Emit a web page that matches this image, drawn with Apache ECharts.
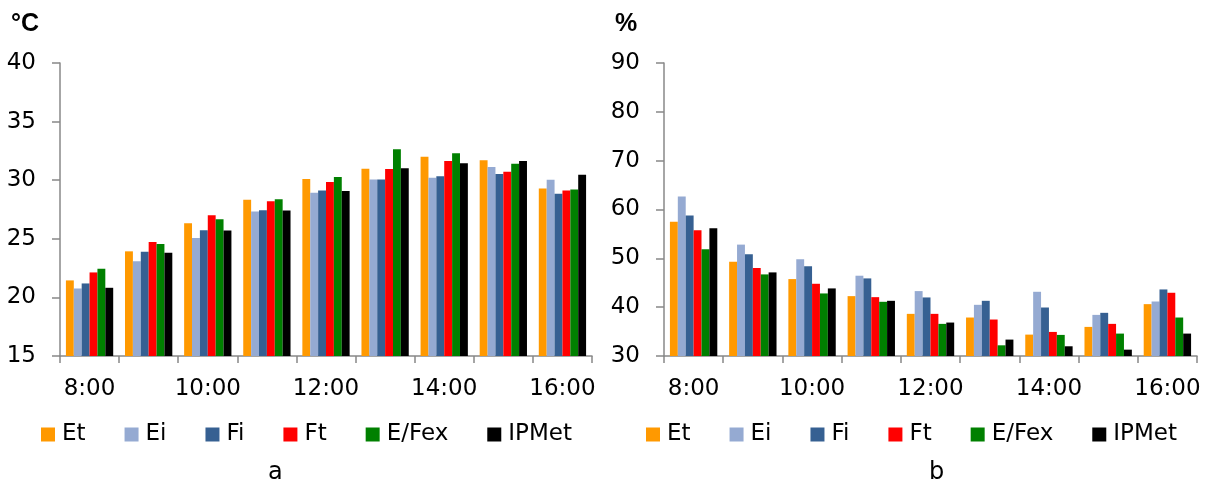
<!DOCTYPE html>
<html>
<head>
<meta charset="utf-8">
<script src="https://cdn.jsdelivr.net/npm/echarts@6/dist/echarts.min.js"></script>
<style>
html,body{margin:0;padding:0;background:#fff;}
#c{width:1216px;height:484px;}
</style>
</head>
<body>
<div id="c"></div>
<script>
const categories = ['8:00','9:00','10:00','11:00','12:00','13:00','14:00','15:00','16:00'];
const seriesNames = ['Et','Ei','Fi','Ft','E/Fex','IPMet'];
const colors = ['#FF9900','#95AAD2','#366092','#FF0000','#008000','#000000'];

// Panel a: temperature (°C)
const tempEt    = [21.45, 23.93, 26.33, 28.33, 30.10, 30.98, 32.00, 31.70, 29.30];
const tempEi    = [20.76, 23.08, 25.07, 27.33, 28.93, 30.07, 30.21, 31.12, 30.04];
const tempFi    = [21.19, 23.90, 25.73, 27.44, 29.13, 30.07, 30.33, 30.53, 28.84];
const tempFt    = [22.13, 24.73, 27.01, 28.21, 29.84, 30.95, 31.64, 30.72, 29.13];
const tempEFex  = [22.45, 24.56, 26.67, 28.38, 30.27, 32.64, 32.29, 31.41, 29.21];
const tempIPMet = [20.82, 23.82, 25.70, 27.41, 29.07, 31.01, 31.44, 31.64, 30.47];

// Panel b: relative humidity (%)
const rhEt    = [57.47, 49.32, 45.75, 42.26, 38.63, 37.88, 34.38, 35.96, 40.62];
const rhEi    = [62.67, 52.81, 49.79, 46.44, 43.29, 40.48, 43.15, 38.42, 41.16];
const rhFi    = [58.77, 50.82, 48.36, 45.89, 41.99, 41.30, 39.93, 38.84, 43.63];
const rhFt    = [55.75, 48.01, 44.79, 42.05, 38.63, 37.47, 34.93, 36.58, 42.95];
const rhEFex  = [51.85, 46.71, 42.81, 41.10, 36.58, 32.19, 34.32, 34.59, 37.88];
const rhIPMet = [56.16, 47.12, 43.84, 41.30, 36.85, 33.36, 31.99, 31.30, 34.59];

const tempTicks = {min: 15, max: 40, interval: 5};
const rhTicks = {min: 30, max: 90, interval: 10};

const tempData = [tempEt, tempEi, tempFi, tempFt, tempEFex, tempIPMet];
const rhData = [rhEt, rhEi, rhFi, rhFt, rhEFex, rhIPMet];

const FONT = 'DejaVu Sans';
const axisGray = '#888888';

function xAxis(gi) {
  return {
    type: 'category', gridIndex: gi, data: categories,
    axisLine: {lineStyle: {color: axisGray, width: 1.5}},
    axisTick: {show: true, interval: 0, length: 7, lineStyle: {color: axisGray, width: 1.5}},
    axisLabel: {interval: 1, color: '#000', fontFamily: FONT, fontSize: 23, margin: 22}
  };
}
function yAxis(gi, t) {
  return {
    type: 'value', gridIndex: gi, min: t.min, max: t.max, interval: t.interval,
    axisLine: {show: true, lineStyle: {color: axisGray, width: 1.5}},
    axisTick: {show: true, length: 8, lineStyle: {color: axisGray, width: 1.5}},
    splitLine: {show: false},
    axisLabel: {color: '#000', fontFamily: FONT, fontSize: 23, margin: 24}
  };
}

const series = [];
[tempData, rhData].forEach((set, gi) => {
  set.forEach((vals, i) => {
    series.push({
      name: seriesNames[i], type: 'bar', xAxisIndex: gi, yAxisIndex: gi,
      data: vals, barGap: '0%', barCategoryGap: '20%',
      itemStyle: {color: colors[i]}, animation: false
    });
  });
});

function legend(left) {
  return {
    left: left, top: 418, itemWidth: 14, itemHeight: 14, itemGap: 39,
    icon: 'rect', data: seriesNames,
    textStyle: {color: '#000', fontFamily: FONT, fontSize: 23, padding: [0,0,0,2]}
  };
}

const chart = echarts.init(document.getElementById('c'), null, {renderer: 'canvas'});
chart.setOption({
  animation: false,
  color: colors,
  grid: [
    {left: 60, right: 624, top: 63, bottom: 128},
    {left: 664, right: 19, top: 63, bottom: 128}
  ],
  xAxis: [xAxis(0), xAxis(1)],
  yAxis: [yAxis(0, tempTicks), yAxis(1, rhTicks)],
  legend: [legend(36), legend(641)],
  graphic: [
    {type: 'text', left: 11, top: 12, style: {text: '°C', fontFamily: 'Liberation Sans', fontWeight: 'bold', fontSize: 25, fill: '#000'}},
    {type: 'text', left: 615, top: 12, style: {text: '%', fontFamily: 'Liberation Sans', fontWeight: 'bold', fontSize: 25, fill: '#000'}},
    {type: 'text', left: 268, top: 461, style: {text: 'a', fontFamily: FONT, fontSize: 24, fill: '#000'}},
    {type: 'text', left: 929, top: 461, style: {text: 'b', fontFamily: FONT, fontSize: 24, fill: '#000'}}
  ],
  series: series
});
</script>
</body>
</html>
